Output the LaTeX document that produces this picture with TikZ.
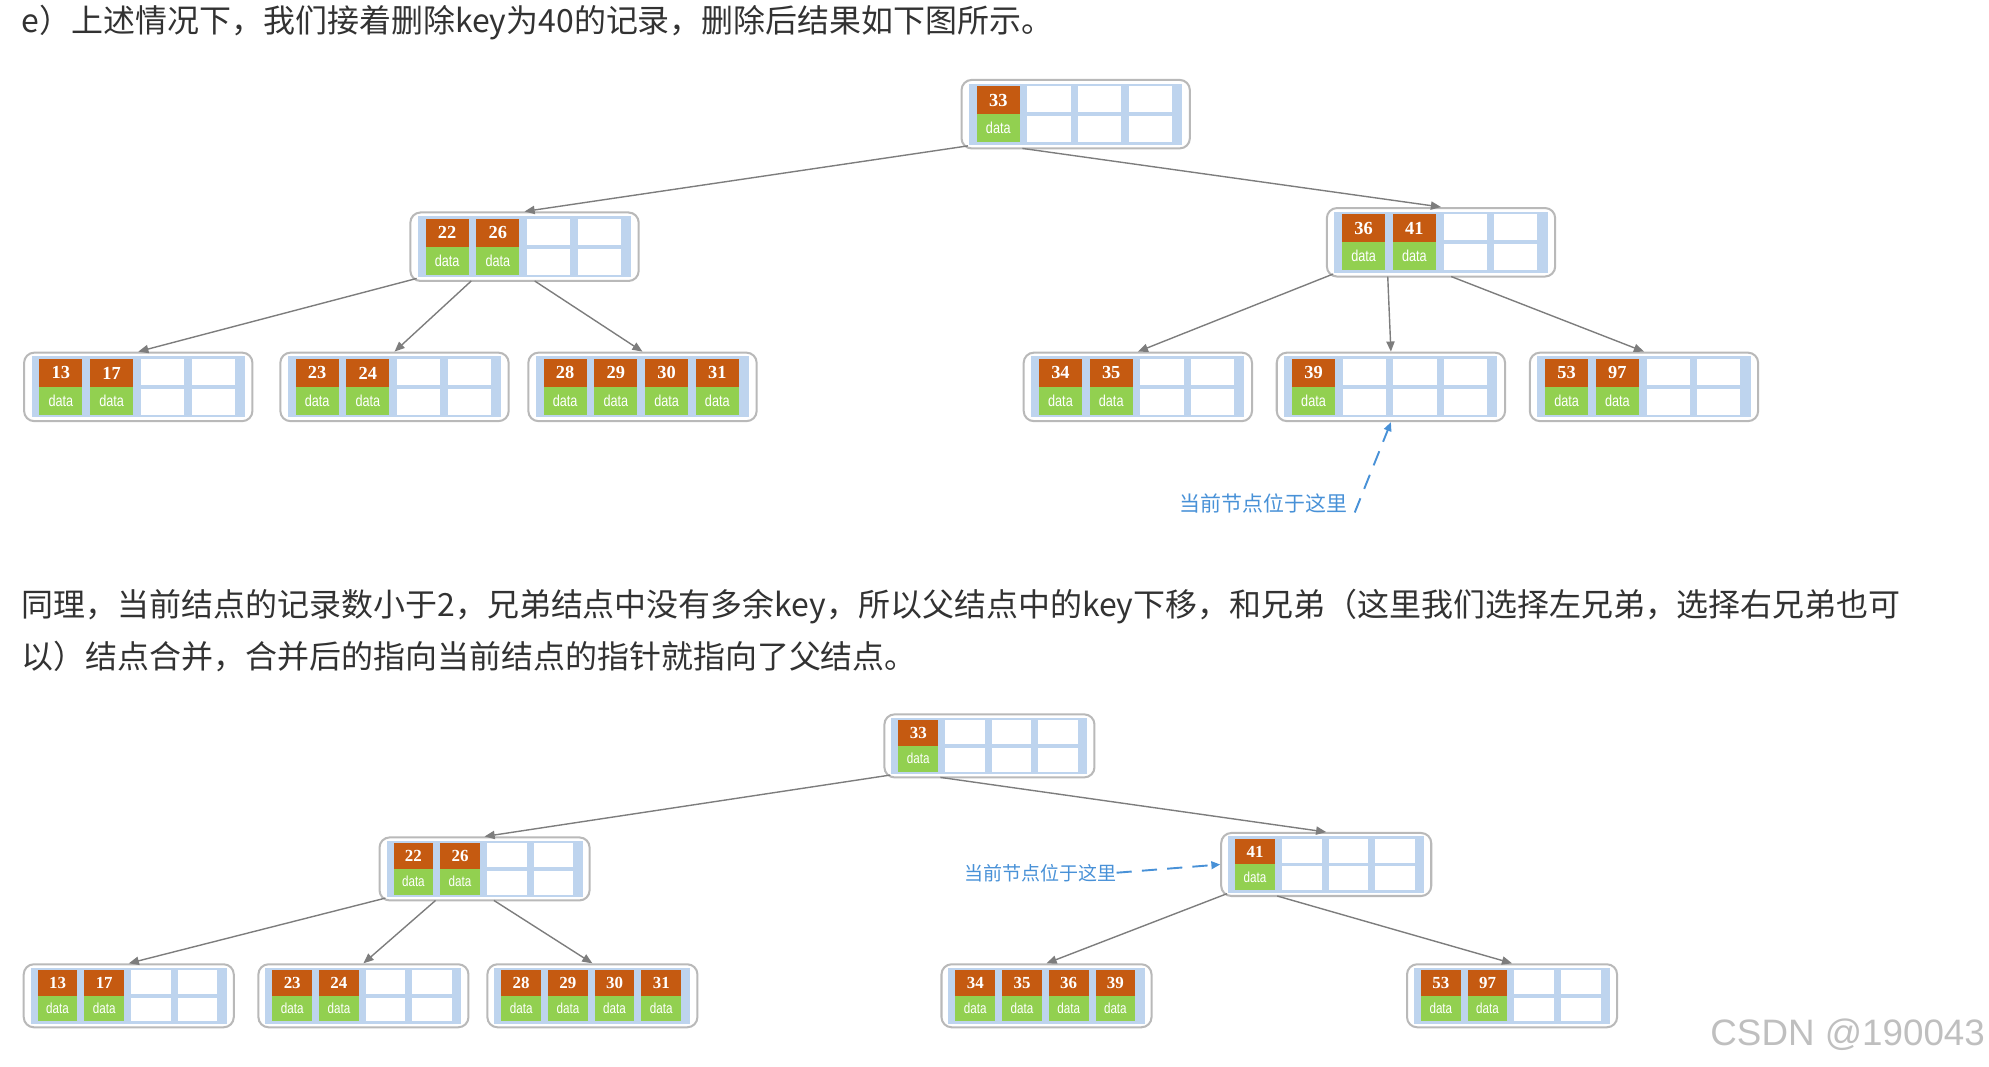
\documentclass[tikz,border=0pt]{standalone}
\usepackage{fontspec}
\setmainfont{Noto Sans CJK SC}
\newfontfamily\numf{Liberation Serif}
\newfontfamily\dataf{Liberation Sans}[FakeStretch=0.8]
\newfontfamily\wmf{Liberation Sans}
\usetikzlibrary{arrows.meta}
\definecolor{kcol}{RGB}{197,90,17}
\definecolor{dcol}{RGB}{146,208,80}
\definecolor{bcol}{RGB}{190,212,238}
\definecolor{edgecol}{RGB}{125,125,125}
\definecolor{boxcol}{RGB}{185,185,185}
\definecolor{labcol}{RGB}{72,145,215}
\definecolor{txtcol}{RGB}{50,50,50}
\tikzset{
  outerbox/.style={draw=boxcol, line width=1.6pt, rounded corners=8pt, fill=white,
    minimum width=180pt, minimum height=54pt, inner sep=0pt},
  link/.style={draw=edgecol, line width=1.1pt, -{Triangle[length=8pt,width=6.5pt]}},
  keytxt/.style={text=white, font=\numf\bfseries\fontsize{14.5}{14.5}\selectfont, inner sep=0pt},
  datatxt/.style={text=white, font=\dataf\fontsize{12.5}{12.5}\selectfont, inner sep=0pt},
  para/.style={anchor=base west, text=txtcol, font=\fontsize{25.2}{25.2}\selectfont, inner sep=0pt},
  hint/.style={text=labcol, inner sep=0pt},
  hintline/.style={draw=labcol, line width=1.5pt, dash pattern=on 12pt off 8pt,
    -{Triangle[length=7pt,width=6pt]}},
}
\newcommand{\bnode}[5]{%
  \begin{scope}[shift={(#2,#3)}, scale=#4, transform shape]
    \node[outerbox] (#1) at (0,0) {};
    \fill[bcol] (-84,-24) rectangle (84,24);
    \foreach \i in {0,...,3}{
      \fill[white] (-78+40*\i,-22) rectangle ++(34,20.5);
      \fill[white] (-78+40*\i,1.5) rectangle ++(34,20.5);
    }
    \foreach \k [count=\i from 0] in {#5}{
      \fill[kcol] (-78+40*\i,-22) rectangle ++(34,22);
      \fill[dcol] (-78+40*\i,0) rectangle ++(34,22);
      \node[keytxt] at (-61+40*\i,-11) {\k};
      \node[datatxt] at (-61+40*\i,11) {data};
    }
    \coordinate (#1-p0) at (-85,25);
    \coordinate (#1-p1) at (-42,27);
    \coordinate (#1-p2) at (8,27);
  \end{scope}}
\begin{document}
\begin{tikzpicture}[x=1pt,y=-1pt]
\useasboundingbox (0,0) rectangle (1568,841);
% texts
\node[para] (t1) at (17,26) {e）上述情况下，我们接着删除key为40的记录，删除后结果如下图所示。};
\node[para] (t2) at (17,486) {同理，当前结点的记录数小于2，兄弟结点中没有多余key，所以父结点中的key下移，和兄弟（这里我们选择左兄弟，选择右兄弟也可};
\node[para] (t3) at (17,527) {以）结点合并，合并后的指向当前结点的指针就指向了父结点。};
% ---- top tree ----
\bnode{root}{848}{90}{1}{33}
\bnode{ml}{413.5}{194.5}{1}{22,26}
\bnode{mr}{1136}{191}{1}{36,41}
\bnode{la}{109}{305}{1}{13,17}
\bnode{lb}{311}{305}{1}{23,24}
\bnode{lc}{506.5}{305}{1}{28,29,30,31}
\bnode{ld}{897}{305}{1}{34,35}
\bnode{le}{1096.5}{305}{1}{39}
\bnode{lf}{1296}{305}{1}{53,97}
\draw[link] (root-p0) -- (ml.north);
\draw[link] (root-p1) -- (mr.north);
\draw[link] (ml-p0) -- (la.north);
\draw[link] (ml-p1) -- (lb.north);
\draw[link] (ml-p2) -- (lc.north);
\draw[link] (mr-p0) -- (ld.north);
\draw[link] (mr-p1) -- (le.north);
\draw[link] (mr-p2) -- (lf.north);
\node[hint, font=\fontsize{16.5}{16.5}\selectfont] (h1) at (996,397) {当前节点位于这里};
\coordinate (h1s) at (1068,404);
\draw[hintline] (h1s) -- (le.south);
% ---- bottom tree ----
\bnode{broot}{780}{588}{0.92}{33}
\bnode{bml}{382}{685}{0.92}{22,26}
\bnode{bmr}{1045.5}{681.5}{0.92}{41}
\bnode{bla}{101.5}{785}{0.92}{13,17}
\bnode{blb}{286.5}{785}{0.92}{23,24}
\bnode{blc}{467}{785}{0.92}{28,29,30,31}
\bnode{bld}{825}{785}{0.92}{34,35,36,39}
\bnode{ble}{1192}{785}{0.92}{53,97}
\draw[link] (broot-p0) -- (bml.north);
\draw[link] (broot-p1) -- (bmr.north);
\draw[link] (bml-p0) -- (bla.north);
\draw[link] (bml-p1) -- (blb.north);
\draw[link] (bml-p2) -- (blc.north);
\draw[link] (bmr-p0) -- (bld.north);
\draw[link] (bmr-p1) -- (ble.north);
\node[hint, font=\fontsize{15}{15}\selectfont] (h2) at (820,688) {当前节点位于这里};
\draw[hintline] (h2.east) -- (bmr.west);
% watermark
\node[anchor=base east, text=black!25, font=\wmf\fontsize{29}{29}\selectfont, inner sep=0pt] (wm) at (1565,824) {CSDN @190043};
\end{tikzpicture}
\end{document}
